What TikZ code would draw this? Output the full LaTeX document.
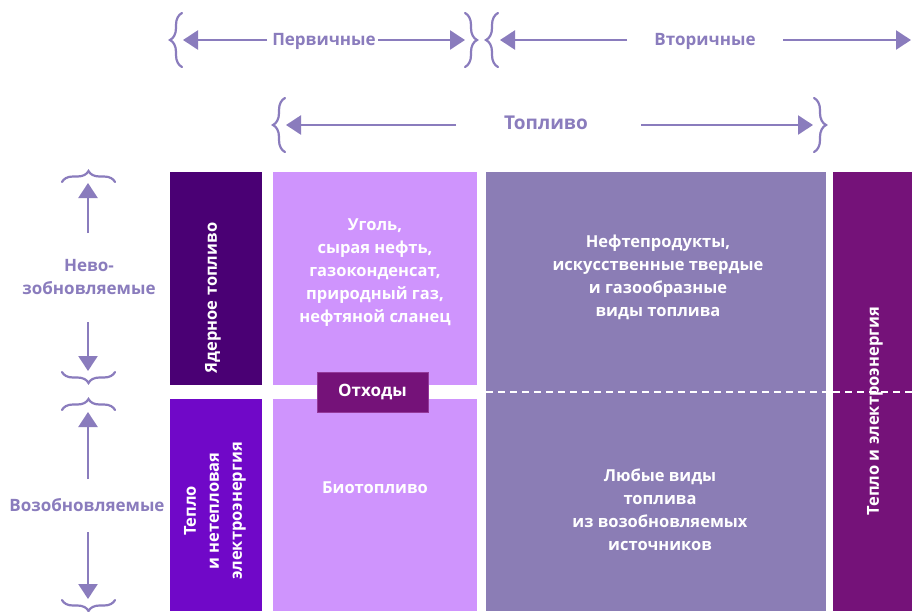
\documentclass[tikz,border=0pt]{standalone}
\usepackage{fontspec}
\setmainfont{Open Sans}
\usetikzlibrary{arrows.meta,decorations.pathreplacing}
\definecolor{anno}{HTML}{8A7CBD}
\definecolor{nucc}{HTML}{4A0074}
\definecolor{renc}{HTML}{7008C8}
\definecolor{lightc}{HTML}{CF94FD}
\definecolor{grayc}{HTML}{8B7DB5}
\definecolor{magc}{HTML}{751279}
\definecolor{magb}{HTML}{94399A}
\begin{document}
\begin{tikzpicture}[x=1pt,y=-1pt,
  annotxt/.style={text=anno, font=\bfseries\fontsize{17}{23}\selectfont, align=center, inner sep=0pt},
  arr/.style={draw=anno, line width=2.4pt, -{Triangle[length=15pt,width=19pt]}},
  brc/.style={draw=anno, line width=2.2pt, line cap=round, decorate, decoration={brace, amplitude=#1}},
  blk/.style={rectangle, inner sep=0pt, outer sep=0pt, draw=none},
  wtxt/.style={text=white, font=\bfseries\fontsize{16.5}{23}\selectfont, align=center, inner sep=0pt},
  dashln/.style={draw=white, line width=2pt, dash pattern=on 7pt off 5pt}
]
\useasboundingbox[fill=white] (0,0) rectangle (912,611);

% blocks
\node[blk, fill=nucc, minimum width=92pt, minimum height=213pt] (nucB) at (216,278.5) {};
\node[blk, fill=renc, minimum width=92pt, minimum height=212pt] (renB) at (216,505) {};
\node[blk, fill=lightc, minimum width=204pt, minimum height=213pt] (coalB) at (375,278.5) {};
\node[blk, fill=lightc, minimum width=204pt, minimum height=212pt] (bioB) at (375,505) {};
\node[blk, fill=grayc, minimum width=340pt, minimum height=439pt] (secB) at (656,391.5) {};
\node[blk, fill=magc, minimum width=79pt, minimum height=439pt] (heatB) at (872.5,391.5) {};

\draw[dashln] (secB.west) -- (secB.east);
\draw[dashln] (heatB.west) -- (heatB.east);

% block texts
\node[wtxt] (coalT) at (375,273) {Уголь,\\сырая нефть,\\газоконденсат,\\природный газ,\\нефтяной сланец};
\node[wtxt] (prodT) at (658,277) {Нефтепродукты,\\искусственные твердые\\и газообразные\\виды топлива};
\node[wtxt] (bioT) at (375,488) {Биотопливо};
\node[wtxt] (anyT) at (660,510) {Любые виды\\топлива\\из возобновляемых\\источников};
\node[wtxt, rotate=90] (nucT) at (213,298) {Ядерное топливо};
\node[wtxt, rotate=90] (renT) at (215,511) {Тепло\\и нетепловая\\электроэнергия};
\node[wtxt, rotate=90] (heatT) at (875,411) {Тепло и электроэнергия};

\node[blk, fill=magc, draw=magb, line width=0.8pt, minimum width=111pt, minimum height=40pt,
  text=white, font=\bfseries\fontsize{17}{20}\selectfont] (waste) at (372.5,392) {Отходы};

% top annotations
\node[annotxt] (prim) at (324,41) {Первичные};
\node[annotxt] (secd) at (705,41) {Вторичные};
\node[annotxt, font=\bfseries\fontsize{19}{23}\selectfont] (fuel) at (546,123) {Топливо};

\coordinate (p1) at (183,40); \coordinate (p2) at (267,40);
\coordinate (p3) at (378,40); \coordinate (p4) at (465,40);
\coordinate (s1) at (500,40); \coordinate (s2) at (627,40);
\coordinate (s3) at (783,40); \coordinate (s4) at (911,40);
\coordinate (f1) at (286,125); \coordinate (f2) at (456,125);
\coordinate (f3) at (641,125); \coordinate (f4) at (813,125);

\draw[arr] (p2) -- (p1);
\draw[arr] (p3) -- (p4);
\draw[arr] (s2) -- (s1);
\draw[arr] (s3) -- (s4);
\draw[arr] (f2) -- (f1);
\draw[arr] (f3) -- (f4);

\draw[brc=12pt] (182,67) -- (182,13);
\draw[brc=12pt] (465,13) -- (465,67);
\draw[brc=12pt] (498,67) -- (498,13);
\draw[brc=12pt] (285,152) -- (285,98);
\draw[brc=12pt] (814,98) -- (814,152);

% left annotations
\node[annotxt] (nonren) at (89,277) {Нево-\\зобновляемые};
\node[annotxt] (renew) at (87,505) {Возобновляемые};

\coordinate (n0) at (88,183); \coordinate (n1) at (88,233);
\coordinate (n2) at (88,322); \coordinate (n3) at (88,371);
\coordinate (r0) at (88,412); \coordinate (r1) at (88,479);
\coordinate (r2) at (88,532); \coordinate (r3) at (88,599);

\draw[arr] (n1) -- (n0);
\draw[arr] (n2) -- (n3);
\draw[arr] (r1) -- (r0);
\draw[arr] (r2) -- (r3);

\draw[brc=11pt] (62,182) -- (115,182);
\draw[brc=11pt] (115,372) -- (62,372);
\draw[brc=11pt] (62,410) -- (115,410);
\draw[brc=11pt] (115,600) -- (62,600);
\end{tikzpicture}
\end{document}
